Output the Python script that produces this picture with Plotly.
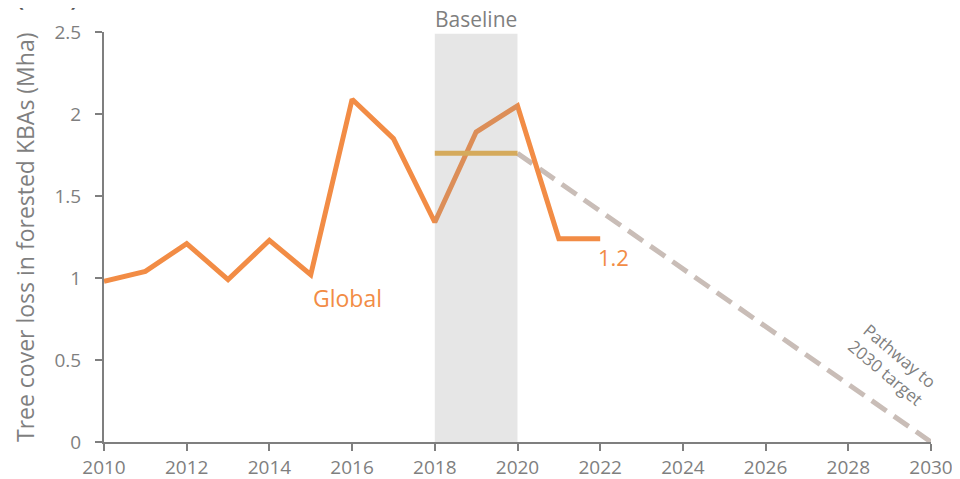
import plotly.graph_objects as go

years = [2010, 2011, 2012, 2013, 2014, 2015, 2016, 2017, 2018, 2019, 2020, 2021, 2022]
loss = [0.98, 1.04, 1.21, 0.99, 1.23, 1.02, 2.09, 1.85, 1.34, 1.89, 2.05, 1.24, 1.24]
baseline_years = [2018, 2020]
baseline_vals = [1.76, 1.76]
pathway_years = [2020, 2030]
pathway_vals = [1.76, 0.0]
x_ticks = list(range(2010, 2031, 2))
y_ticks = [0, 0.5, 1, 1.5, 2, 2.5]

FONT = "Open Sans"
GRAY = "#7f7f7f"
ORANGE = "#F28C45"

fig = go.Figure()
fig.add_trace(go.Scatter(x=pathway_years, y=pathway_vals, mode="lines",
                         line=dict(color="#C9BDB7", width=5, dash="18px,9px"), hoverinfo="skip"))
fig.add_trace(go.Scatter(x=years, y=loss, mode="lines",
                         line=dict(color=ORANGE, width=5), hoverinfo="skip"))
fig.add_trace(go.Scatter(x=baseline_years, y=baseline_vals, mode="lines",
                         line=dict(color="#E9B04A", width=5), hoverinfo="skip"))

fig.add_shape(type="rect", xref="x", yref="y", x0=2018, x1=2020, y0=0, y1=2.49,
              fillcolor="rgba(150,150,150,0.24)", line=dict(width=0), layer="above")

fig.add_annotation(x=2019, y=2.49, xref="x", yref="y", text="Baseline", showarrow=False,
                   yanchor="bottom", yshift=-1, font=dict(family=FONT, size=21, color=GRAY))
fig.add_annotation(x=2015.88, y=0.88, xref="x", yref="y", text="Global", showarrow=False,
                   font=dict(family=FONT, size=23, color=ORANGE))
fig.add_annotation(x=2022.31, y=1.13, xref="x", yref="y", text="1.2", showarrow=False,
                   font=dict(family=FONT, size=22, color=ORANGE))
fig.add_annotation(x=2029.08, y=0.47, xref="x", yref="y", text="Pathway to<br>2030 target",
                   showarrow=False, textangle=40,
                   font=dict(family=FONT, size=17, color=GRAY))
fig.add_annotation(x=-0.0955, y=0.5, xref="paper", yref="paper", xanchor="center", yanchor="middle",
                   text="Tree cover loss in forested KBAs (Mha)", showarrow=False, textangle=-90,
                   font=dict(family=FONT, size=23, color=GRAY))
fig.add_annotation(x=-0.1076, y=1.123, xref="paper", yref="paper", xanchor="left", yanchor="top",
                   text="<b>(Mha)</b>", showarrow=False,
                   font=dict(family=FONT, size=21, color="#555555"))

# page body has an 8px default margin; margins compensate for it
fig.update_layout(
    width=952, height=471,
    margin=dict(l=96, r=29, t=24, b=37),
    plot_bgcolor="white", paper_bgcolor="white",
    showlegend=False,
    font=dict(family=FONT, size=19, color=GRAY),
    xaxis=dict(range=[2010, 2030], tickvals=x_ticks, showgrid=False, zeroline=False,
               automargin=False, ticklabeloverflow="allow",
               showline=True, linecolor=GRAY, linewidth=2, ticks="outside", ticklen=7,
               tickcolor=GRAY, tickwidth=2, tickfont=dict(size=19, color=GRAY)),
    yaxis=dict(range=[0, 2.5], tickvals=y_ticks, ticktext=["0", "0.5", "1", "1.5", "2", "2.5"],
               showgrid=False, zeroline=False, automargin=False, ticklabelstandoff=10,
               ticklabeloverflow="allow",
               showline=True, linecolor=GRAY, linewidth=2, ticks="outside", ticklen=7,
               tickcolor=GRAY, tickwidth=2, tickfont=dict(size=19, color=GRAY)),
)

fig.write_html("out.html")
